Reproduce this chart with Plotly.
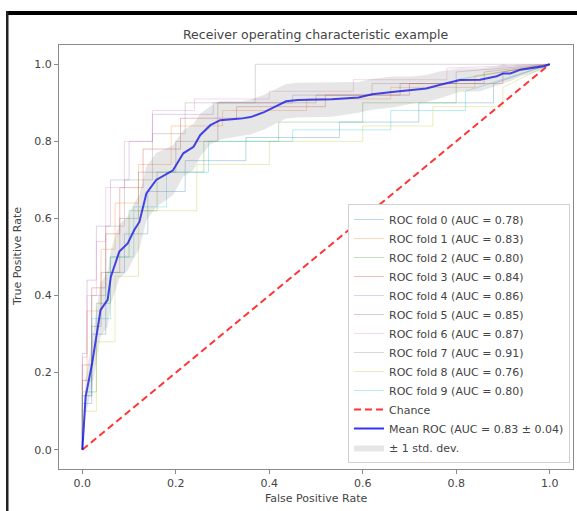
import plotly.graph_objects as go
import numpy as np

# ---------------- data ----------------
fold_labels = ["ROC fold 0 (AUC = 0.78)", "ROC fold 1 (AUC = 0.83)", "ROC fold 2 (AUC = 0.80)",
               "ROC fold 3 (AUC = 0.84)", "ROC fold 4 (AUC = 0.86)", "ROC fold 5 (AUC = 0.85)",
               "ROC fold 6 (AUC = 0.87)", "ROC fold 7 (AUC = 0.91)", "ROC fold 8 (AUC = 0.76)",
               "ROC fold 9 (AUC = 0.80)"]

fold0_fpr = [0, 0, 0.02, 0.02, 0.05, 0.05, 0.09, 0.09, 0.14, 0.14, 0.22, 0.22, 0.35, 0.35, 0.55, 0.55, 0.72, 0.72, 0.88, 0.88, 1.0]
fold0_tpr = [0, 0.12, 0.12, 0.30, 0.30, 0.46, 0.46, 0.56, 0.56, 0.67, 0.67, 0.75, 0.75, 0.81, 0.81, 0.85, 0.85, 0.90, 0.90, 0.95, 1.0]
fold1_fpr = [0, 0, 0.01, 0.01, 0.04, 0.04, 0.07, 0.07, 0.12, 0.12, 0.19, 0.19, 0.30, 0.30, 0.48, 0.48, 0.66, 0.66, 0.84, 0.84, 1.0]
fold1_tpr = [0, 0.18, 0.18, 0.36, 0.36, 0.52, 0.52, 0.64, 0.64, 0.74, 0.74, 0.84, 0.84, 0.88, 0.88, 0.91, 0.91, 0.94, 0.94, 0.97, 1.0]
fold2_fpr = [0, 0, 0.03, 0.03, 0.06, 0.06, 0.10, 0.10, 0.16, 0.16, 0.26, 0.26, 0.42, 0.42, 0.60, 0.60, 0.80, 0.80, 1.0]
fold2_tpr = [0, 0.15, 0.15, 0.38, 0.38, 0.50, 0.50, 0.62, 0.62, 0.72, 0.72, 0.80, 0.80, 0.85, 0.85, 0.90, 0.90, 0.96, 1.0]
fold3_fpr = [0, 0, 0.02, 0.02, 0.05, 0.05, 0.08, 0.08, 0.13, 0.13, 0.21, 0.21, 0.33, 0.33, 0.52, 0.52, 0.70, 0.70, 0.90, 0.90, 1.0]
fold3_tpr = [0, 0.22, 0.22, 0.42, 0.42, 0.56, 0.56, 0.68, 0.68, 0.78, 0.78, 0.86, 0.86, 0.89, 0.89, 0.92, 0.92, 0.95, 0.95, 0.98, 1.0]
fold4_fpr = [0, 0, 0.01, 0.01, 0.03, 0.03, 0.06, 0.06, 0.10, 0.10, 0.15, 0.15, 0.28, 0.28, 0.45, 0.45, 0.62, 0.62, 0.80, 0.80, 1.0]
fold4_tpr = [0, 0.25, 0.25, 0.44, 0.44, 0.58, 0.58, 0.70, 0.70, 0.80, 0.80, 0.87, 0.87, 0.90, 0.90, 0.92, 0.92, 0.95, 0.95, 0.98, 1.0]
fold5_fpr = [0, 0, 0.02, 0.02, 0.04, 0.04, 0.08, 0.08, 0.12, 0.12, 0.20, 0.20, 0.29, 0.29, 0.50, 0.50, 0.68, 0.68, 0.86, 0.86, 1.0]
fold5_tpr = [0, 0.14, 0.14, 0.32, 0.32, 0.46, 0.46, 0.60, 0.60, 0.72, 0.72, 0.80, 0.80, 0.90, 0.90, 0.92, 0.92, 0.95, 0.95, 0.98, 1.0]
fold6_fpr = [0, 0, 0.01, 0.01, 0.03, 0.03, 0.05, 0.05, 0.09, 0.09, 0.15, 0.15, 0.24, 0.24, 0.40, 0.40, 0.58, 0.58, 0.78, 0.78, 1.0]
fold6_tpr = [0, 0.24, 0.24, 0.40, 0.40, 0.54, 0.54, 0.68, 0.68, 0.80, 0.80, 0.88, 0.88, 0.91, 0.91, 0.93, 0.93, 0.96, 0.96, 0.99, 1.0]
fold7_fpr = [0, 0, 0.02, 0.02, 0.05, 0.05, 0.09, 0.09, 0.15, 0.15, 0.22, 0.22, 0.37, 0.37, 1.0]
fold7_tpr = [0, 0.18, 0.18, 0.40, 0.40, 0.58, 0.58, 0.70, 0.70, 0.82, 0.82, 0.90, 0.90, 1.0, 1.0]
fold8_fpr = [0, 0, 0.03, 0.03, 0.07, 0.07, 0.12, 0.12, 0.245, 0.245, 0.40, 0.40, 0.60, 0.60, 0.75, 0.75, 0.90, 0.90, 1.0]
fold8_tpr = [0, 0.10, 0.10, 0.28, 0.28, 0.45, 0.45, 0.62, 0.62, 0.74, 0.74, 0.80, 0.80, 0.84, 0.84, 0.89, 0.89, 0.94, 1.0]
fold9_fpr = [0, 0, 0.02, 0.02, 0.06, 0.06, 0.11, 0.11, 0.18, 0.18, 0.27, 0.27, 0.45, 0.45, 0.66, 0.66, 0.82, 0.82, 1.0]
fold9_tpr = [0, 0.14, 0.14, 0.34, 0.34, 0.50, 0.50, 0.63, 0.63, 0.72, 0.72, 0.80, 0.80, 0.83, 0.83, 0.88, 0.88, 0.93, 1.0]

mean_fpr = [0, 0.007, 0.021, 0.039, 0.054, 0.061, 0.079, 0.097, 0.111, 0.122, 0.137, 0.158, 0.194,
            0.216, 0.238, 0.252, 0.274, 0.295, 0.339, 0.36, 0.389, 0.411, 0.436, 0.461, 0.534, 0.591,
            0.62, 0.663, 0.707, 0.736, 0.764, 0.808, 0.851, 0.887, 0.90, 0.916, 0.938, 0.966, 0.988, 1.0]
mean_tpr = [0, 0.138, 0.225, 0.363, 0.389, 0.449, 0.514, 0.535, 0.57, 0.591, 0.665, 0.70, 0.725,
            0.769, 0.786, 0.816, 0.842, 0.855, 0.859, 0.863, 0.876, 0.889, 0.904, 0.907, 0.909, 0.914,
            0.922, 0.928, 0.933, 0.937, 0.946, 0.959, 0.96, 0.969, 0.976, 0.976, 0.986, 0.99, 0.995, 1.0]
std_tpr = [0, 0.05, 0.06, 0.07, 0.07, 0.07, 0.07, 0.07, 0.07, 0.07, 0.07, 0.07, 0.065,
           0.06, 0.06, 0.055, 0.05, 0.05, 0.045, 0.045, 0.045, 0.045, 0.045, 0.045, 0.045, 0.04,
           0.04, 0.04, 0.035, 0.035, 0.035, 0.03, 0.03, 0.025, 0.025, 0.02, 0.018, 0.012, 0.008, 0]

chance_x = [0, 1]
chance_y = [0, 1]

mean_label = "Mean ROC (AUC = 0.83 ± 0.04)"
std_label = "± 1 std. dev."
title_text = "Receiver operating characteristic example"
x_title = "False Positive Rate"
y_title = "True Positive Rate"
tick_vals = [0.0, 0.2, 0.4, 0.6, 0.8, 1.0]

fold_fprs = [fold0_fpr, fold1_fpr, fold2_fpr, fold3_fpr, fold4_fpr,
             fold5_fpr, fold6_fpr, fold7_fpr, fold8_fpr, fold9_fpr]
fold_tprs = [fold0_tpr, fold1_tpr, fold2_tpr, fold3_tpr, fold4_tpr,
             fold5_tpr, fold6_tpr, fold7_tpr, fold8_tpr, fold9_tpr]

# ---------------- styles ----------------
tab10 = ["31,119,180", "255,127,14", "44,160,44", "214,39,40", "148,103,189",
         "140,86,75", "227,119,194", "127,127,127", "188,189,34", "23,190,207"]
FONT = "DejaVu Sans"
TXT = "#444444"

fig = go.Figure()
for i in range(10):
    fig.add_trace(go.Scatter(x=fold_fprs[i], y=fold_tprs[i], mode="lines",
                             line=dict(color=f"rgba({tab10[i]},0.3)", width=1),
                             name=fold_labels[i]))

fig.add_trace(go.Scatter(x=chance_x, y=chance_y, mode="lines",
                         line=dict(color="rgba(255,0,0,0.8)", width=2, dash="7px,4px"),
                         name="Chance"))
fig.add_trace(go.Scatter(x=mean_fpr, y=mean_tpr, mode="lines",
                         line=dict(color="rgba(0,0,255,0.8)", width=2),
                         name=mean_label))

m = np.array(mean_tpr)
s = np.array(std_tpr)
upper = np.minimum(m + s, 1)
lower = np.maximum(m - s, 0)
fig.add_trace(go.Scatter(x=mean_fpr, y=lower, mode="lines", line=dict(width=0),
                         showlegend=False, hoverinfo="skip"))
fig.add_trace(go.Scatter(x=mean_fpr, y=upper, mode="lines", line=dict(width=0),
                         fill="tonexty", fillcolor="rgba(128,128,128,0.2)",
                         name=std_label))

L, R, T, B = 59, 4, 45, 42
W, H = 577, 511
pw, ph = W - L - R, H - T - B


def px_x(px):
    return (px - L) / pw


def px_y(py):
    return 1 - (py - T) / ph


axis_common = dict(range=[-0.05, 1.05], tickvals=tick_vals, tickformat=".1f",
                   showgrid=False, zeroline=False, showline=True, mirror=True,
                   linecolor="#8a8a8a", linewidth=1.2, ticks="outside", ticklen=4,
                   tickcolor="#8a8a8a", tickfont=dict(family=FONT, size=11, color=TXT))

fig.update_layout(
    width=W, height=H, margin=dict(l=L, r=R, t=T, b=B),
    paper_bgcolor="white", plot_bgcolor="white",
    xaxis=axis_common, yaxis=axis_common,
    legend=dict(x=px_x(570), y=px_y(463), xanchor="right", yanchor="bottom",
                traceorder="normal", itemwidth=30,
                bgcolor="white", bordercolor="#d0d0d0", borderwidth=1,
                font=dict(family=FONT, size=11, color=TXT)),
    annotations=[
        dict(text=title_text, x=0.5, y=px_y(34), xref="paper", yref="paper",
             showarrow=False, font=dict(family=FONT, size=12.5, color=TXT),
             xanchor="center", yanchor="middle"),
        dict(text=x_title, x=0.5, y=px_y(498), xref="paper", yref="paper",
             showarrow=False, font=dict(family=FONT, size=11, color=TXT),
             xanchor="center", yanchor="middle"),
        dict(text=y_title, x=px_x(17), y=0.5, xref="paper", yref="paper",
             showarrow=False, textangle=-90, font=dict(family=FONT, size=11, color=TXT),
             xanchor="center", yanchor="middle"),
    ],
    shapes=[
        dict(type="rect", xref="paper", yref="paper", x0=px_x(6), x1=px_x(578),
             y0=px_y(15), y1=px_y(11), fillcolor="black", line=dict(width=0)),
        dict(type="rect", xref="paper", yref="paper", x0=px_x(6), x1=px_x(8.5),
             y0=px_y(512), y1=px_y(11), fillcolor="#222", line=dict(width=0)),
    ],
)

fig.write_html("out.html", config={"displayModeBar": False},
               post_script="document.body.style.margin='0';document.body.style.overflow='hidden';")
